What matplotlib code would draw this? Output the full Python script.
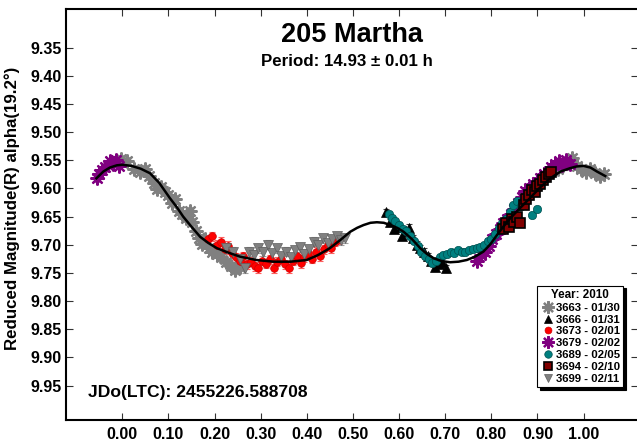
import numpy as np
import matplotlib
matplotlib.use('Agg')
import matplotlib.pyplot as plt
from matplotlib.lines import Line2D

plt.rcParams['font.family'] = ['Liberation Sans', 'DejaVu Sans']
plt.rcParams['font.weight'] = 'bold'

# fitted curve
fit_phase = [-0.056, -0.041, -0.027, -0.012, 0.0, 0.02, 0.04, 0.06, 0.08, 0.103, 0.118,
             0.132, 0.150, 0.169, 0.187, 0.205, 0.230, 0.255, 0.290, 0.328, 0.365, 0.40,
             0.425, 0.45, 0.472, 0.494, 0.509, 0.523, 0.538, 0.552, 0.567, 0.581, 0.596,
             0.61, 0.628, 0.646, 0.660, 0.675, 0.693, 0.711, 0.729, 0.747, 0.765, 0.783,
             0.798, 0.812, 0.826, 0.841, 0.862, 0.884, 0.906, 0.928, 0.950, 0.971, 0.985,
             1.0, 1.015, 1.029, 1.047]
fit_mag = [9.582, 9.570, 9.563, 9.559, 9.558, 9.560, 9.565, 9.573, 9.590, 9.617, 9.633,
           9.650, 9.668, 9.686, 9.697, 9.706, 9.714, 9.721, 9.727, 9.730, 9.730, 9.727,
           9.718, 9.706, 9.692, 9.677, 9.670, 9.665, 9.661, 9.660, 9.661, 9.665, 9.670,
           9.677, 9.690, 9.706, 9.716, 9.724, 9.729, 9.731, 9.730, 9.727, 9.721, 9.712,
           9.699, 9.683, 9.668, 9.653, 9.635, 9.617, 9.598, 9.582, 9.570, 9.564, 9.561,
           9.560, 9.563, 9.570, 9.578]

labels = ['3663 - 01/30', '3666 - 01/31', '3673 - 02/01', '3679 - 02/02',
          '3689 - 02/05', '3694 - 02/10', '3699 - 02/11']

ph_3663 = [-0.002, 0.010, 0.025, 0.038, 0.050, 0.058, 0.068, 0.075, 0.083, 0.092, 0.100,
           0.108, 0.115, 0.122, 0.130, 0.138, 0.146, 0.152, 0.160, 0.166, 0.172, 0.180,
           0.188, 0.195, 0.205, 0.215, 0.225, 0.235, 0.245, 0.255,
           0.945, 0.955, 0.965, 0.975, 0.985, 0.995, 1.005, 1.015, 1.025, 1.035, 1.045]
mag_3663 = [9.548, 9.552, 9.565, 9.570, 9.566, 9.578, 9.590, 9.601, 9.598, 9.607, 9.612,
            9.625, 9.618, 9.640, 9.646, 9.652, 9.640, 9.660, 9.676, 9.688, 9.698, 9.690,
            9.705, 9.712, 9.716, 9.722, 9.730, 9.738, 9.745, 9.740,
            9.565, 9.558, 9.555, 9.546, 9.560, 9.566, 9.570, 9.565, 9.572, 9.578, 9.575]

ph_3666 = [0.572, 0.580, 0.590, 0.598, 0.606, 0.614, 0.622, 0.630, 0.638, 0.646, 0.654,
           0.662, 0.670, 0.678, 0.686, 0.694, 0.702]
mag_3666 = [9.642, 9.660, 9.672, 9.668, 9.684, 9.676, 9.670, 9.688, 9.700, 9.706, 9.712,
            9.720, 9.728, 9.740, 9.735, 9.730, 9.742]

ph_3673 = [0.185, 0.195, 0.205, 0.215, 0.222, 0.230, 0.238, 0.246, 0.255, 0.262, 0.270,
           0.278, 0.287, 0.295, 0.303, 0.312, 0.320, 0.328, 0.336, 0.345, 0.353, 0.362,
           0.370, 0.378, 0.387, 0.395, 0.403, 0.412, 0.420, 0.428, 0.437, 0.445, 0.453,
           0.461, 0.470]
mag_3673 = [9.690, 9.685, 9.700, 9.695, 9.708, 9.702, 9.715, 9.722, 9.728, 9.720, 9.735,
            9.730, 9.738, 9.742, 9.728, 9.734, 9.726, 9.742, 9.730, 9.725, 9.735, 9.742,
            9.728, 9.720, 9.733, 9.722, 9.715, 9.725, 9.712, 9.720, 9.708, 9.700, 9.706,
            9.695, 9.690]

ph_3679 = [-0.055, -0.050, -0.044, -0.038, -0.032, -0.026, -0.020, -0.014, -0.008,
           0.770, 0.778, 0.786, 0.794, 0.802, 0.810, 0.818, 0.826, 0.834, 0.842, 0.850,
           0.858, 0.866, 0.874, 0.882, 0.890, 0.898, 0.906, 0.914, 0.922, 0.930, 0.938,
           0.946, 0.954, 0.962, 0.970]
mag_3679 = [9.582, 9.575, 9.568, 9.562, 9.558, 9.552, 9.556, 9.550, 9.560,
            9.728, 9.718, 9.712, 9.702, 9.690, 9.680, 9.672, 9.662, 9.655, 9.645, 9.636,
            9.625, 9.615, 9.605, 9.600, 9.592, 9.588, 9.582, 9.575, 9.570, 9.562, 9.556,
            9.552, 9.558, 9.550, 9.556]

ph_3689 = [0.578, 0.585, 0.592, 0.600, 0.608, 0.616, 0.624, 0.632, 0.640, 0.648, 0.656,
           0.664, 0.672, 0.680, 0.688, 0.696, 0.704, 0.712, 0.720, 0.728, 0.736, 0.744,
           0.752, 0.760, 0.768, 0.776, 0.784, 0.792, 0.800, 0.808, 0.816, 0.824, 0.832,
           0.840, 0.848, 0.856, 0.864, 0.872, 0.880, 0.888, 0.898]
mag_3689 = [9.645, 9.652, 9.658, 9.665, 9.672, 9.676, 9.685, 9.694, 9.702, 9.712, 9.720,
            9.726, 9.732, 9.728, 9.722, 9.718, 9.716, 9.712, 9.714, 9.710, 9.713, 9.712,
            9.710, 9.708, 9.706, 9.704, 9.700, 9.694, 9.690, 9.680, 9.670, 9.662, 9.655,
            9.642, 9.630, 9.622, 9.632, 9.620, 9.608, 9.648, 9.636]

ph_3694 = [0.826, 0.832, 0.838, 0.844, 0.850, 0.856, 0.862, 0.870, 0.876, 0.882, 0.888,
           0.894, 0.900, 0.906, 0.912, 0.918, 0.924, 0.930]
mag_3694 = [9.672, 9.662, 9.668, 9.655, 9.660, 9.650, 9.662, 9.630, 9.618, 9.612, 9.603,
            9.606, 9.596, 9.592, 9.585, 9.580, 9.574, 9.570]

ph_3699 = [0.225, 0.240, 0.255, 0.265, 0.275, 0.285, 0.295, 0.305, 0.315, 0.325, 0.335,
           0.345, 0.355, 0.365, 0.375, 0.385, 0.395, 0.405, 0.415, 0.425, 0.435, 0.445,
           0.455, 0.465, 0.475, 0.483]
mag_3699 = [9.705, 9.712, 9.725, 9.742, 9.712, 9.718, 9.706, 9.712, 9.700, 9.715, 9.706,
            9.720, 9.712, 9.722, 9.710, 9.704, 9.716, 9.708, 9.695, 9.700, 9.688, 9.697,
            9.690, 9.685, 9.692, 9.688]

errs = [0.007, 0.006, 0.008, 0.006, 0.005, 0.006, 0.008]

star = (8, 2, 0)
styles = [
    dict(marker=star, color='#808080', mfc='#808080', mec='#808080', ms=10, mew=1.6, ecolor='#a0a0a0'),
    dict(marker='^', color='black', mfc='black', mec='black', ms=7, mew=0.5, ecolor='#404040'),
    dict(marker='o', color='red', mfc='red', mec='#cc0000', ms=5.5, mew=0.5, ecolor='#ff6060'),
    dict(marker=star, color='#800080', mfc='#800080', mec='#800080', ms=10, mew=1.6, ecolor='#b060b0'),
    dict(marker='o', color='#008080', mfc='#008080', mec='#005050', ms=6, mew=0.5, ecolor='#40a0a0'),
    dict(marker='s', color='#800000', mfc='#800000', mec='black', ms=7, mew=1.2, ecolor='#a04040'),
    dict(marker='v', color='#808080', mfc='#808080', mec='#606060', ms=7, mew=0.5, ecolor='#a0a0a0'),
]
series = [(ph_3663, mag_3663), (ph_3666, mag_3666), (ph_3673, mag_3673), (ph_3679, mag_3679),
          (ph_3689, mag_3689), (ph_3694, mag_3694), (ph_3699, mag_3699)]

fig = plt.figure(figsize=(6.37, 4.43), dpi=100)
ax = fig.add_axes([66 / 637, 23 / 443, 572 / 637, 411.3 / 443])

handles = []
for (ph, mg), st, e, lab in zip(series, styles, errs, labels):
    ax.errorbar(ph, mg, yerr=e, fmt='none', ecolor=st['ecolor'], elinewidth=0.8,
                capsize=2.5, capthick=0.8, zorder=2)
    ax.plot(ph, mg, linestyle='none', marker=st['marker'], mfc=st['mfc'], mec=st['mec'],
            ms=st['ms'], mew=st['mew'], zorder=3)
    handles.append(Line2D([], [], linestyle='none', marker=st['marker'], mfc=st['mfc'],
                          mec=st['mec'], ms=st['ms'] * 0.9, mew=st['mew']))

ax.plot(fit_phase, fit_mag, color='black', lw=1.8, zorder=5)

ax.set_xlim(-0.122, 1.118)
ax.set_ylim(10.011, 9.281)
ax.set_xticks(np.arange(0, 1.001, 0.1))
ax.set_yticks(np.arange(9.35, 9.951, 0.05))
ax.xaxis.set_major_formatter(matplotlib.ticker.FormatStrFormatter('%.2f'))
ax.yaxis.set_major_formatter(matplotlib.ticker.FormatStrFormatter('%.2f'))
ax.tick_params(direction='in', length=5, width=0.8, labelsize=11.5, top=True, right=True,
               color='#333333')
ax.tick_params(axis='x', pad=5)
ax.tick_params(axis='y', pad=3)
for s in ax.spines.values():
    s.set_linewidth(1.5)
ax.spines['right'].set_visible(False)

ax.set_ylabel('Reduced Magnitude(R) alpha(19.2°)', fontsize=12.2, fontweight='bold')
ax.yaxis.set_label_coords(-0.08, 0.515)

fig.text(352 / 637, 1 - 35 / 443, '205 Martha', ha='center', va='center', fontsize=19.5,
         fontweight='bold')
fig.text(347 / 637, 1 - 61 / 443, 'Period: 14.93 ± 0.01 h', ha='center', va='center',
         fontsize=12.2, fontweight='bold')
fig.text(88 / 637, 1 - 393 / 443, 'JDo(LTC): 2455226.588708', ha='left', va='center',
         fontsize=12.6, fontweight='bold')

leg = ax.legend(handles, labels, title='Year: 2010', loc='lower right',
                bbox_to_anchor=(0.974, 0.080), fontsize=8.2, title_fontsize=8.4,
                frameon=True, fancybox=False, edgecolor='black', labelspacing=0.16,
                handletextpad=0.1, handlelength=1.2, borderpad=0.3, borderaxespad=0,
                shadow={'facecolor': 'black', 'edgecolor': 'black', 'alpha': 1})
leg.get_frame().set_linewidth(0.8)
leg.get_title().set_fontweight('bold')

fig.savefig('out.png', dpi=100)
